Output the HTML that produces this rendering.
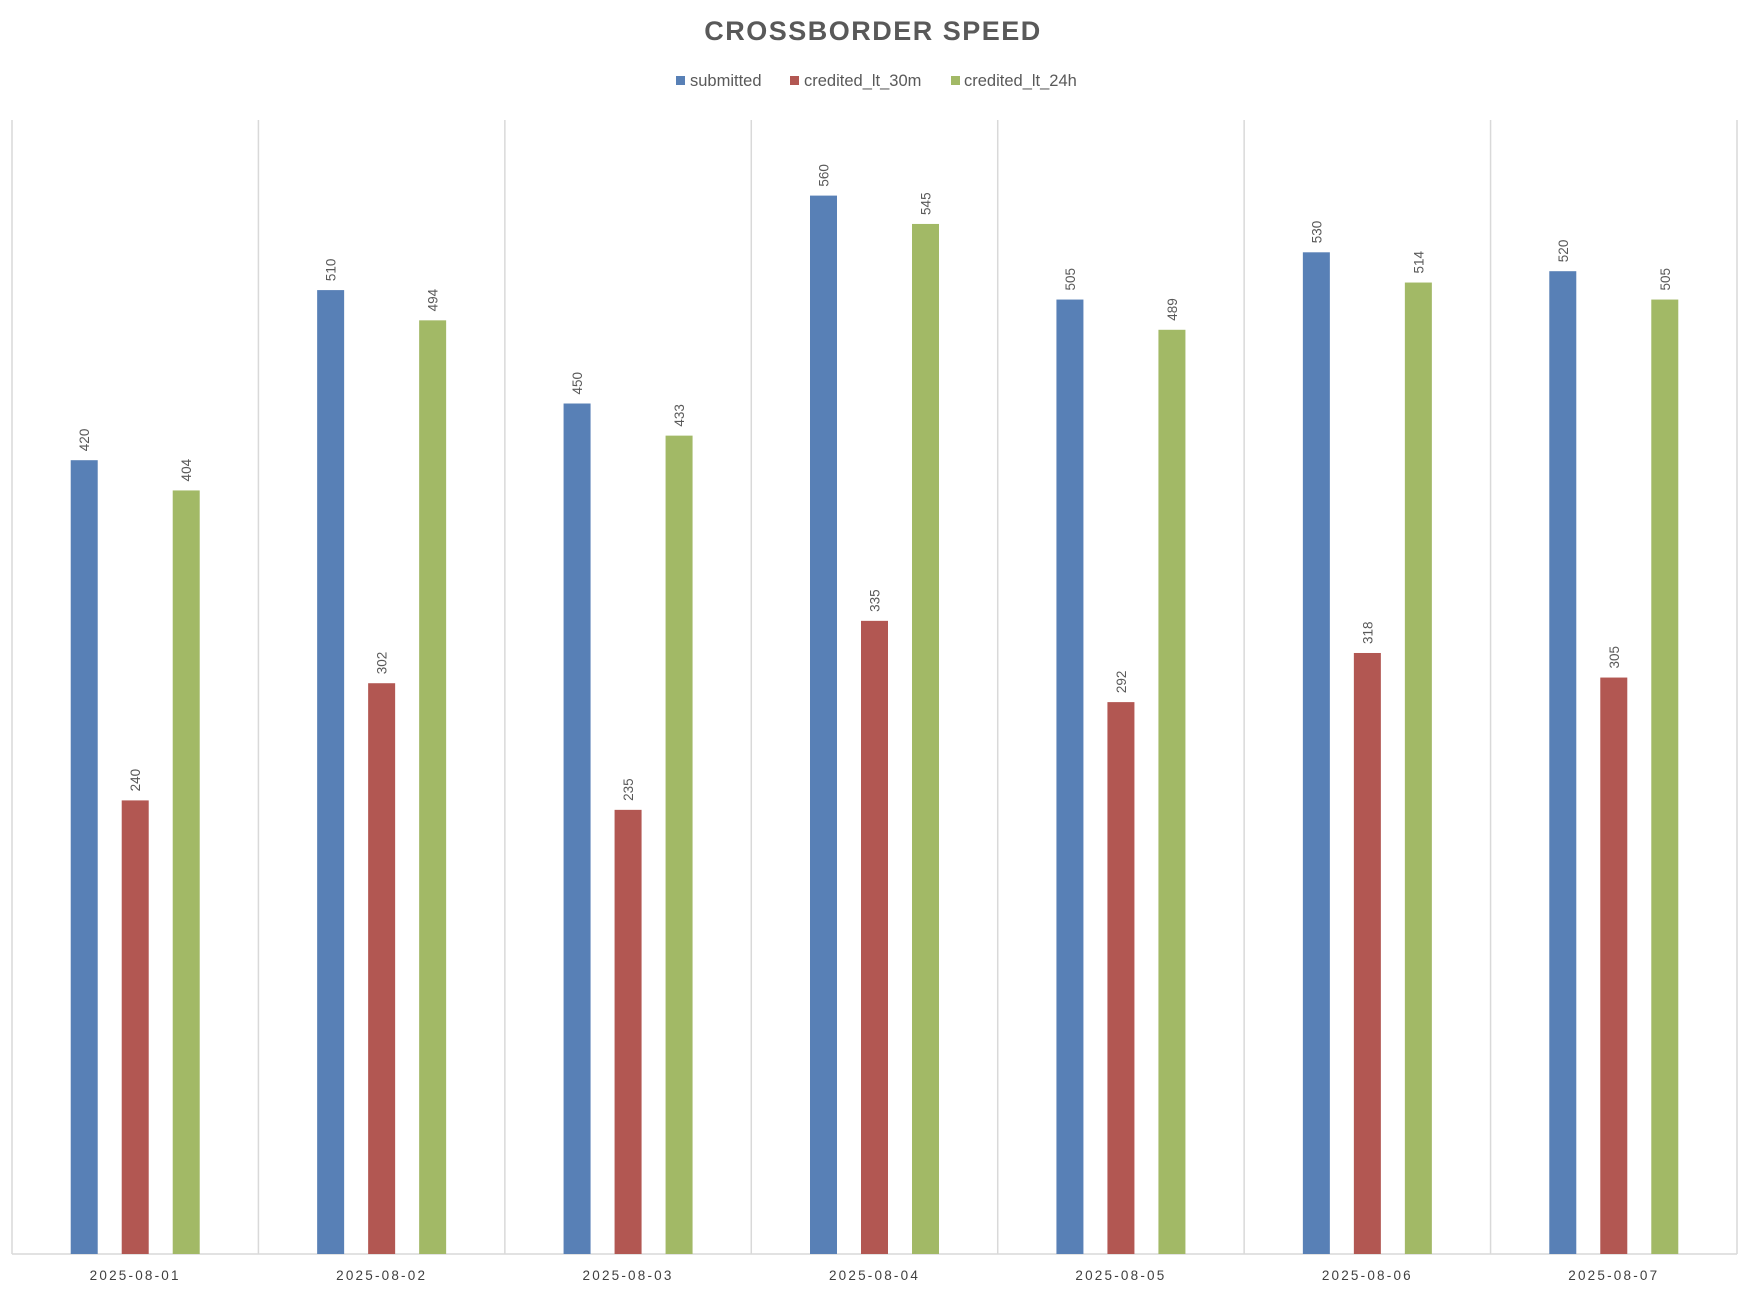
<!DOCTYPE html>
<html><head><meta charset="utf-8"><style>
body{margin:0;background:#fff;}
svg{display:block;font-family:"Liberation Sans",sans-serif;}
</style></head><body>
<svg id="chart" width="1746" height="1292">
<text x="873" y="40" text-anchor="middle" font-size="27" font-weight="bold" fill="#595959" letter-spacing="1.5">CROSSBORDER SPEED</text>
<g>
<g><rect x="676" y="76" width="9" height="9" fill="#5880b6"/><text x="690" y="86" font-size="16.5" fill="#595959">submitted</text></g>
<g><rect x="790" y="76" width="9" height="9" fill="#b25752"/><text x="804" y="86" font-size="16.5" fill="#595959">credited_lt_30m</text></g>
<g><rect x="951" y="76" width="9" height="9" fill="#a2b966"/><text x="964" y="86" font-size="16.5" fill="#595959">credited_lt_24h</text></g>
</g>
<g id="plot"></g>
</svg>
<script>
const categories=["2025-08-01","2025-08-02","2025-08-03","2025-08-04","2025-08-05","2025-08-06","2025-08-07"];
const submitted=[420,510,450,560,505,530,520];
const creditedLt30m=[240,302,235,335,292,318,305];
const creditedLt24h=[404,494,433,545,489,514,505];
const yMax=600;
const NS="http://www.w3.org/2000/svg";
const plot=document.getElementById('plot');
const L=12,R=1737,T=120,B=1254;
const cw=(R-L)/categories.length;
const x=i=>L+cw*i+cw/2;
const y=v=>B-(v/yMax)*(B-T);
function mk(tag,attrs){const e=document.createElementNS(NS,tag);for(const k in attrs)e.setAttribute(k,attrs[k]);plot.appendChild(e);return e;}
for(let i=0;i<=categories.length;i++){
  const g=mk('line',{x1:L+cw*i,x2:L+cw*i,y1:T,y2:B,stroke:'#d9d9d9','stroke-width':1.5});
  
  
}
const ax=mk('line',{x1:L,x2:R,y1:B,y2:B,stroke:'#d9d9d9','stroke-width':1.5});


const series=[[submitted,'#5880b6',-51,'submitted'],[creditedLt30m,'#b25752',0,'credited-lt-30m'],[creditedLt24h,'#a2b966',51,'credited-lt-24h']];
categories.forEach((c,i)=>{
  series.forEach(([vals,col,off,nm])=>{
    const cx=x(i)+off,v=vals[i];
    const r=mk('rect',{x:cx-13.5,y:y(v),width:27,height:B-y(v),fill:col});
    
    
    const t=mk('text',{x:0,y:0,transform:`translate(${cx+5},${y(v)-9}) rotate(-90)`,'font-size':13.5,fill:'#595959'});
    t.textContent=v;
    
    
  });
  const lb=mk('text',{x:x(i),y:1280,'text-anchor':'middle','font-size':13.5,fill:'#404040','letter-spacing':2.2});
  lb.textContent=c;
  
  
});
</script>
</body></html>
